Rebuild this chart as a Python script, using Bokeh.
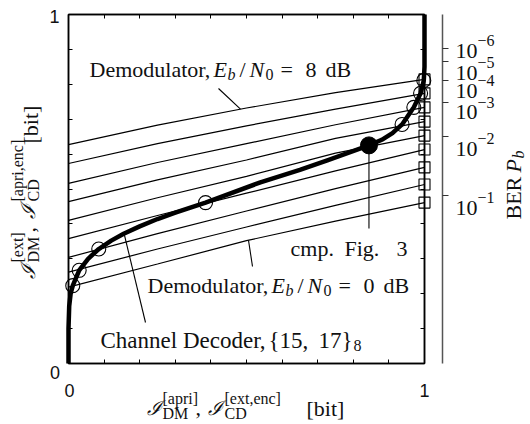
import numpy as np
from bokeh.plotting import figure
from bokeh.models import Range1d, LinearAxis, FixedTicker
from bokeh.embed import file_html
from bokeh.resources import INLINE
from bokeh.core.properties import value

# ---------------- data ----------------
demod_x = [0.0, 0.25, 0.5, 0.75, 1.0]
demod_ebn0_db = [8, 7, 6, 5, 4, 3, 2, 1, 0]
demod_8db = [0.627, 0.683, 0.732, 0.776, 0.814]
demod_7db = [0.573, 0.630, 0.681, 0.729, 0.774]
demod_6db = [0.516, 0.576, 0.630, 0.684, 0.734]
demod_5db = [0.464, 0.526, 0.583, 0.645, 0.693]
demod_4db = [0.410, 0.475, 0.536, 0.603, 0.653]
demod_3db = [0.358, 0.424, 0.488, 0.552, 0.613]
demod_2db = [0.304, 0.372, 0.437, 0.501, 0.562]
demod_1db = [0.262, 0.328, 0.391, 0.453, 0.513]
demod_0db = [0.219, 0.285, 0.352, 0.408, 0.461]
demod_curves = [demod_8db, demod_7db, demod_6db, demod_5db, demod_4db,
                demod_3db, demod_2db, demod_1db, demod_0db]

decoder_x = [0.0, 0.0, 0.002, 0.006, 0.012, 0.030, 0.055, 0.085, 0.120, 0.155,
             0.200, 0.250, 0.300, 0.385, 0.539, 0.650, 0.727, 0.844, 0.880,
             0.910, 0.937, 0.970, 0.989, 0.998, 1.0, 1.0]
decoder_y = [0.0, 0.10, 0.165, 0.200, 0.223, 0.267, 0.300, 0.328, 0.352, 0.372,
             0.393, 0.414, 0.432, 0.461, 0.519, 0.555, 0.582, 0.625, 0.641,
             0.660, 0.685, 0.734, 0.774, 0.811, 0.850, 1.0]

cross_x = [0.012, 0.030, 0.085, 0.385, 0.937, 0.970, 0.989, 0.998]
cross_y = [0.223, 0.267, 0.328, 0.461, 0.685, 0.734, 0.774, 0.811]
fig3_x = [0.844]
fig3_y = [0.625]

ber_exponents = ["\u22126", "\u22125", "\u22124", "\u22123", "\u22122", "\u22121"]
ber_tick_y = [0.902, 0.865, 0.811, 0.749, 0.650, 0.481]

frame_ticks = [0.0, 0.1, 0.2, 0.3, 0.4, 0.5, 0.6, 0.7, 0.8, 0.9, 1.0]

# ---------------- figure ----------------
W, H = 530, 424
FL, FT, FW, FH = 68, 14, 356, 349
p = figure(width=W, height=H, x_range=Range1d(0, 1), y_range=Range1d(0, 1),
           output_backend="svg", toolbar_location=None,
           x_axis_location=None, y_axis_location=None,
           min_border_left=FL, min_border_right=W - FL - FW, min_border_top=FT,
           min_border_bottom=H - FT - FH)
p.xgrid.visible = False
p.ygrid.visible = False
p.outline_line_color = "black"
p.outline_line_width = 1.5
p.background_fill_color = "white"
p.border_fill_color = "white"


def frame_axis(side):
    ax = LinearAxis(ticker=FixedTicker(ticks=[], minor_ticks=frame_ticks))
    ax.major_tick_in = 0
    ax.major_tick_out = 0
    ax.minor_tick_in = 4
    ax.minor_tick_out = 0
    ax.minor_tick_line_color = "black"
    ax.axis_line_color = "black"
    ax.axis_line_width = 1.5
    ax.major_label_standoff = 0
    p.add_layout(ax, side)
    return ax


for side in ["below", "left", "above", "right"]:
    frame_axis(side)

# spacer between the box and the BER axis
spacer = LinearAxis(ticker=FixedTicker(ticks=[], minor_ticks=[0.5]))
spacer.axis_line_color = None
spacer.major_tick_in = 0
spacer.major_tick_out = 0
spacer.minor_tick_in = 0
spacer.minor_tick_out = 18
spacer.minor_tick_line_color = None
spacer.major_label_standoff = 0
p.add_layout(spacer, "right")

ber_axis = LinearAxis(ticker=FixedTicker(ticks=[], minor_ticks=ber_tick_y))
ber_axis.axis_line_color = "#555555"
ber_axis.axis_line_width = 1.5
ber_axis.major_tick_in = 0
ber_axis.major_tick_out = 0
ber_axis.minor_tick_in = 0
ber_axis.minor_tick_out = 6
ber_axis.minor_tick_line_color = "#333333"
ber_axis.minor_tick_line_width = 1.2
ber_axis.major_label_standoff = 0
p.add_layout(ber_axis, "right")

# ---------------- curves ----------------
for ys in demod_curves:
    p.line(demod_x, ys, line_color="black", line_width=1.2)

dec = p.line(decoder_x, decoder_y, line_color="black", line_width=4.5,
             line_join="round")
dec.level = "overlay"

sq = p.scatter([1.0] * len(demod_curves), [c[-1] for c in demod_curves],
               marker="square", size=11, fill_color=None,
               line_color="black", line_width=1.1)
sq.level = "overlay"

cr = p.scatter(cross_x, cross_y, marker="circle", size=14, fill_color=None,
               line_color="black", line_width=1.1)
cr.level = "overlay"

dot = p.scatter(fig3_x, fig3_y, marker="circle", size=17, fill_color="black",
                line_color="black")
dot.level = "overlay"


# pixel -> data helpers for annotation placement
def dx(px):
    return (px - FL) / FW


def dy(py):
    return (FT + FH - py) / FH


lead_top_x = dx(240)
lead_bot_x = dx(248)
lead_dec_y = dy(233)
p.segment([lead_top_x, lead_bot_x,
           float(np.interp(lead_dec_y, decoder_y[1:], decoder_x[1:])), fig3_x[0]],
          [float(np.interp(lead_top_x, demod_x, demod_8db)),
           float(np.interp(lead_bot_x, demod_x, demod_0db)), lead_dec_y, fig3_y[0]],
          [dx(218), dx(252), dx(145), fig3_x[0]],
          [dy(88), dy(266), dy(322), dy(228)],
          line_color="black", line_width=1.1)

# ---------------- texts ----------------
SERIF = "Liberation Serif"
SANS = "Liberation Sans"
CAL = "DejaVu Serif"
BIG, SMALL, CALSIZE = 22, 16, 20


def txt(px, py, s, size=BIG, style="normal", font=SERIF, angle=0.0,
        align="left", color="#111111"):
    r = p.text(x=[dx(px)], y=[dy(py)], text=[s], text_font=value(font),
               text_font_size=value(f"{size}px"), text_font_style=style,
               angle=angle, text_align=align, text_baseline="alphabetic",
               text_color=color)
    r.level = "overlay"
    return r


# frame tick labels
txt(54.5, 372, "0", size=18, font=SANS, align="center")
txt(54, 16, "1", size=18, font=SANS, align="center")
txt(69, 390, "0", size=18, font=SANS, align="center")
txt(424, 390, "1", size=18, font=SANS, align="center")


def demod_label(x0, base, level):
    txt(x0, base, "Demodulator,")
    txt(x0 + 124, base, "E", style="italic")
    txt(x0 + 138, base + 5, "b", size=SMALL, style="italic")
    txt(x0 + 150, base, "/")
    txt(x0 + 160, base, "N", style="italic")
    txt(x0 + 176, base + 5, "0", size=SMALL)
    txt(x0 + 191, base, "=")
    txt(x0 + 216, base, level)
    txt(x0 + 236, base, "dB")


demod_label(89, 69, str(demod_ebn0_db[0]))
demod_label(147, 285, str(demod_ebn0_db[-1]))

txt(100, 340, "Channel Decoder,", size=23)
txt(268, 340, "{15,", size=23)
txt(352, 340, "17}", size=23, align="right")
txt(353, 345, "8", size=SMALL)

txt(290, 248, "cmp.")
txt(344, 248, "Fig.")
txt(407, 248, "3", align="right")

# x axis label
xb = 407
txt(146, xb, "\u2110", size=CALSIZE, font=CAL, style="italic")
txt(162, xb - 9, "[apri]", size=SMALL)
txt(162, xb + 6, "DM", size=SMALL)
txt(195, xb, ",")
txt(207, xb, "\u2110", size=CALSIZE, font=CAL, style="italic")
txt(224, xb - 9, "[ext,enc]", size=SMALL)
txt(224, xb + 6, "CD", size=SMALL)
txt(306, xb + 1, "[bit]")

# y axis label (rotated, reads upward)
A = np.pi / 2
yb = 27
txt(yb, 278, "\u2110", size=CALSIZE, font=CAL, style="italic", angle=A)
txt(yb - 10, 262, "[ext]", size=SMALL, angle=A)
txt(yb + 6, 262, "DM", size=SMALL, angle=A)
txt(yb, 232, ",", angle=A)
txt(yb, 218, "\u2110", size=CALSIZE, font=CAL, style="italic", angle=A)
txt(yb - 10, 201, "[apri,enc]", size=SMALL, angle=A)
txt(yb + 6, 201, "CD", size=SMALL, angle=A)
txt(yb + 3, 143, "[bit]", angle=A)

# BER tick labels
ber_base = [50, 72, 90, 111.5, 148, 207]
for b, e in zip(ber_base, ber_exponents):
    txt(455, b, "10", size=22)
    txt(477, b - 10, e, size=SMALL)

# BER label (rotated)
txt(513, 219, "BER", angle=A)
txt(513, 172, "P", style="italic", angle=A)
txt(518, 158, "b", size=SMALL, style="italic", angle=A)

open("out.html", "w").write(file_html(p, INLINE))
